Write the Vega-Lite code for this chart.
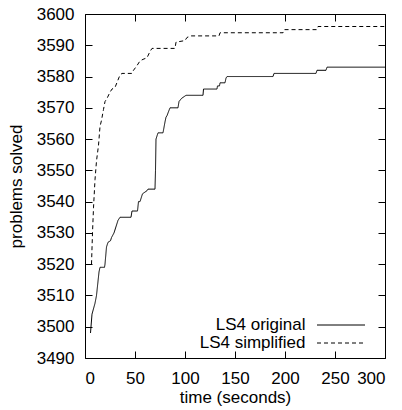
{
  "$schema": "https://vega.github.io/schema/vega-lite/v6.json",
  "width": 300,
  "height": 344,
  "autosize": {"type": "none"},
  "padding": {"left": 85, "top": 14, "right": 17, "bottom": 52},
  "background": "white",
  "config": {
    "view": {"stroke": "black", "strokeWidth": 1},
    "font": "Liberation Sans",
    "axis": {
      "domain": false,
      "grid": false,
      "tickColor": "black",
      "tickWidth": 1,
      "tickSize": -7,
      "labelFont": "Liberation Sans",
      "labelFontSize": 17,
      "labelColor": "black",
      "titleFont": "Liberation Sans",
      "titleFontSize": 17,
      "titleFontWeight": "normal",
      "titleColor": "black"
    }
  },
  "data": {
    "values": [
      {"s": "LS4 original", "t": 5.5, "v": 3498},
      {"s": "LS4 original", "t": 7, "v": 3504},
      {"s": "LS4 original", "t": 10, "v": 3507.5},
      {"s": "LS4 original", "t": 11.5, "v": 3510},
      {"s": "LS4 original", "t": 14, "v": 3517.5},
      {"s": "LS4 original", "t": 15, "v": 3519},
      {"s": "LS4 original", "t": 19.5, "v": 3519},
      {"s": "LS4 original", "t": 20, "v": 3520},
      {"s": "LS4 original", "t": 21.5, "v": 3525.5},
      {"s": "LS4 original", "t": 23, "v": 3527},
      {"s": "LS4 original", "t": 25.5, "v": 3527.5},
      {"s": "LS4 original", "t": 26.5, "v": 3528.5},
      {"s": "LS4 original", "t": 29, "v": 3530},
      {"s": "LS4 original", "t": 33, "v": 3534},
      {"s": "LS4 original", "t": 35, "v": 3535},
      {"s": "LS4 original", "t": 46, "v": 3535},
      {"s": "LS4 original", "t": 47, "v": 3537},
      {"s": "LS4 original", "t": 52.5, "v": 3537},
      {"s": "LS4 original", "t": 53.5, "v": 3540},
      {"s": "LS4 original", "t": 55, "v": 3540},
      {"s": "LS4 original", "t": 57.5, "v": 3542.5},
      {"s": "LS4 original", "t": 62, "v": 3543.5},
      {"s": "LS4 original", "t": 63, "v": 3544},
      {"s": "LS4 original", "t": 70, "v": 3544},
      {"s": "LS4 original", "t": 70.5, "v": 3550},
      {"s": "LS4 original", "t": 71, "v": 3560},
      {"s": "LS4 original", "t": 72, "v": 3561},
      {"s": "LS4 original", "t": 73, "v": 3562},
      {"s": "LS4 original", "t": 78, "v": 3562},
      {"s": "LS4 original", "t": 80, "v": 3565.5},
      {"s": "LS4 original", "t": 81, "v": 3567},
      {"s": "LS4 original", "t": 82, "v": 3567.5},
      {"s": "LS4 original", "t": 85, "v": 3570},
      {"s": "LS4 original", "t": 93, "v": 3570},
      {"s": "LS4 original", "t": 94, "v": 3572},
      {"s": "LS4 original", "t": 96.5, "v": 3573},
      {"s": "LS4 original", "t": 101, "v": 3574},
      {"s": "LS4 original", "t": 118, "v": 3574},
      {"s": "LS4 original", "t": 118.5, "v": 3576},
      {"s": "LS4 original", "t": 132, "v": 3576},
      {"s": "LS4 original", "t": 132.5, "v": 3577},
      {"s": "LS4 original", "t": 134.5, "v": 3577},
      {"s": "LS4 original", "t": 135, "v": 3578},
      {"s": "LS4 original", "t": 140, "v": 3578},
      {"s": "LS4 original", "t": 141, "v": 3579.5},
      {"s": "LS4 original", "t": 142, "v": 3580},
      {"s": "LS4 original", "t": 188, "v": 3580},
      {"s": "LS4 original", "t": 189, "v": 3581},
      {"s": "LS4 original", "t": 231, "v": 3581},
      {"s": "LS4 original", "t": 232, "v": 3582},
      {"s": "LS4 original", "t": 241, "v": 3582},
      {"s": "LS4 original", "t": 242, "v": 3583},
      {"s": "LS4 original", "t": 300, "v": 3583},
      {"s": "LS4 simplified", "t": 6.5, "v": 3520},
      {"s": "LS4 simplified", "t": 7.5, "v": 3530},
      {"s": "LS4 simplified", "t": 8.5, "v": 3538},
      {"s": "LS4 simplified", "t": 10, "v": 3547},
      {"s": "LS4 simplified", "t": 11.5, "v": 3553},
      {"s": "LS4 simplified", "t": 13.5, "v": 3558},
      {"s": "LS4 simplified", "t": 15, "v": 3564},
      {"s": "LS4 simplified", "t": 16.5, "v": 3566},
      {"s": "LS4 simplified", "t": 18.5, "v": 3569.5},
      {"s": "LS4 simplified", "t": 20, "v": 3572},
      {"s": "LS4 simplified", "t": 22, "v": 3573},
      {"s": "LS4 simplified", "t": 25, "v": 3575},
      {"s": "LS4 simplified", "t": 27, "v": 3576},
      {"s": "LS4 simplified", "t": 30, "v": 3576.5},
      {"s": "LS4 simplified", "t": 32.5, "v": 3578.5},
      {"s": "LS4 simplified", "t": 35, "v": 3580.5},
      {"s": "LS4 simplified", "t": 37, "v": 3581},
      {"s": "LS4 simplified", "t": 47, "v": 3581},
      {"s": "LS4 simplified", "t": 48.5, "v": 3582},
      {"s": "LS4 simplified", "t": 52, "v": 3583.5},
      {"s": "LS4 simplified", "t": 55, "v": 3585},
      {"s": "LS4 simplified", "t": 58, "v": 3585.5},
      {"s": "LS4 simplified", "t": 62, "v": 3586},
      {"s": "LS4 simplified", "t": 65, "v": 3588},
      {"s": "LS4 simplified", "t": 67, "v": 3589},
      {"s": "LS4 simplified", "t": 90, "v": 3589},
      {"s": "LS4 simplified", "t": 91, "v": 3591},
      {"s": "LS4 simplified", "t": 100, "v": 3591.5},
      {"s": "LS4 simplified", "t": 102, "v": 3592.5},
      {"s": "LS4 simplified", "t": 106, "v": 3593},
      {"s": "LS4 simplified", "t": 134, "v": 3593},
      {"s": "LS4 simplified", "t": 135, "v": 3594},
      {"s": "LS4 simplified", "t": 198, "v": 3594},
      {"s": "LS4 simplified", "t": 199, "v": 3595},
      {"s": "LS4 simplified", "t": 232, "v": 3595},
      {"s": "LS4 simplified", "t": 233, "v": 3596},
      {"s": "LS4 simplified", "t": 300, "v": 3596}
    ]
  },
  "layer": [
    {
      "mark": {"type": "line", "color": "black", "strokeWidth": 1, "interpolate": "linear"},
      "encoding": {
        "x": {
          "field": "t", "type": "quantitative",
          "scale": {"domain": [0, 300], "nice": false, "zero": false},
          "axis": {"orient": "bottom", "values": [0, 50, 100, 150, 200, 250, 300], "format": "d", "title": "time (seconds)", "labelPadding": 19, "titlePadding": 3}
        },
        "y": {
          "field": "v", "type": "quantitative",
          "scale": {"domain": [3490, 3600], "nice": false, "zero": false},
          "axis": {"orient": "left", "values": [3490, 3500, 3510, 3520, 3530, 3540, 3550, 3560, 3570, 3580, 3590, 3600], "format": "d", "title": "problems solved", "labelPadding": 18, "titlePadding": 11}
        },
        "strokeDash": {
          "field": "s", "type": "nominal",
          "scale": {"domain": ["LS4 original", "LS4 simplified"], "range": [[1, 0], [4, 3]]},
          "legend": {
            "title": null, "orient": "none", "legendX": 247.5, "legendY": 302.5,
            "symbolType": "M-4,0H4", "symbolSize": 144, "symbolStrokeWidth": 1,
            "symbolStrokeColor": "black", "symbolFillColor": "transparent", "labelAlign": "right", "labelOffset": -44,
            "labelFontSize": 17, "labelFont": "Liberation Sans", "labelColor": "black",
            "rowPadding": 0, "padding": 0
          }
        }
      }
    },
    {
      "mark": {"type": "line", "opacity": 0},
      "encoding": {
        "x": {
          "field": "t", "type": "quantitative",
          "axis": {"orient": "top", "values": [0, 50, 100, 150, 200, 250, 300], "labels": false, "title": null}
        },
        "y": {
          "field": "v", "type": "quantitative",
          "axis": {"orient": "right", "values": [3490, 3500, 3510, 3520, 3530, 3540, 3550, 3560, 3570, 3580, 3590, 3600], "labels": false, "title": null}
        },
        "detail": {"field": "s"}
      }
    }
  ]
}
